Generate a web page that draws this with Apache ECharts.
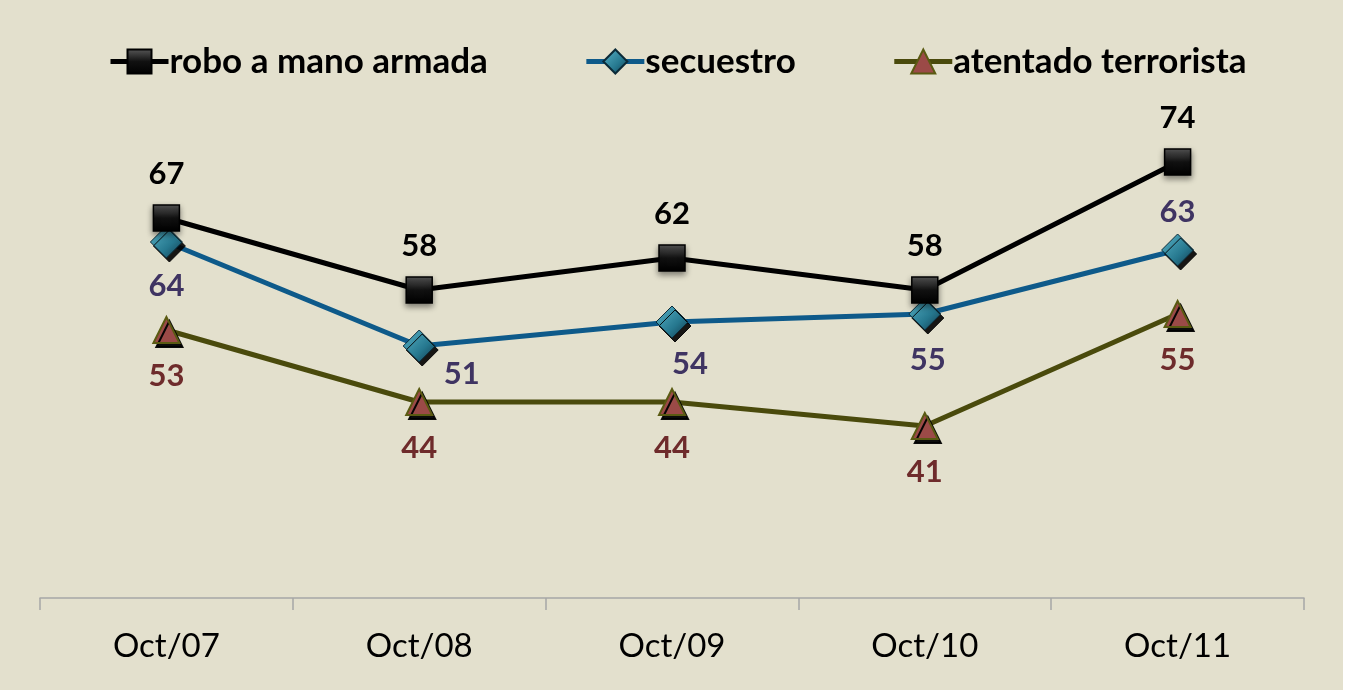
<!DOCTYPE html>
<html>
<head>
<meta charset="utf-8">
<script src="https://cdn.jsdelivr.net/npm/echarts@6/dist/echarts.min.js"></script>
<style>
	html, body { margin: 0; padding: 0; background: #ffffff; }
	#chart { width: 1343px; height: 690px; background: #E3E0CD; }
</style>
</head>
<body>
<div id="chart"></div>
<script>
	// categorías y valores
	const categories = ["Oct/07", "Oct/08", "Oct/09", "Oct/10", "Oct/11"];
	const robo = [67, 58, 62, 58, 74];
	const secuestro = [64, 51, 54, 55, 63];
	const atentado = [53, 44, 44, 41, 55];

	const fontFamily = "Lato, 'Open Sans', sans-serif";

	// posiciones de etiquetas por punto (solo diseño)
	function labels(values, opts) {
		return values.map((v, i) => ({
			value: v,
			label: opts[i]
		}));
	}

	const chart = echarts.init(document.getElementById("chart"));

	chart.setOption({
		animation: false,
		textStyle: { fontFamily: fontFamily },
		legend: {
			left: 103,
			top: 39,
			itemWidth: 58,
			itemHeight: 30,
			itemGap: 96,
			lineStyle: { width: 5 },
			textStyle: {
				fontSize: 35,
				fontWeight: "bold",
				color: "#000000",
				fontFamily: fontFamily,
				padding: [0, 0, 0, -4]
			}
		},
		grid: {
			left: 40,
			right: 39,
			top: 114,
			bottom: 92
		},
		xAxis: {
			type: "category",
			data: categories,
			boundaryGap: true,
			axisLine: { lineStyle: { color: "#A6A6A6", width: 1.5 } },
			axisTick: { show: true, length: 12, lineStyle: { color: "#A6A6A6", width: 1.5 } },
			axisLabel: { fontSize: 33, color: "#000000", margin: 32, fontFamily: fontFamily }
		},
		yAxis: {
			type: "value",
			min: 19.5,
			max: 80,
			show: false,
			splitLine: { show: false }
		},
		series: [
			{
				name: "robo a mano armada",
				type: "line",
				data: robo,
				symbol: "rect",
				symbolSize: 26,
				lineStyle: { color: "#000000", width: 5 },
				itemStyle: {
					color: new echarts.graphic.LinearGradient(0, 0, 0, 1, [
						{ offset: 0, color: "#5a5a5a" },
						{ offset: 0.5, color: "#111111" },
						{ offset: 1, color: "#000000" }
					]),
					borderColor: "#000000",
					borderWidth: 1.5,
					shadowColor: "rgba(0,0,0,0.45)",
					shadowBlur: 6,
					shadowOffsetY: 3
				},
				label: {
					show: true,
					position: "top",
					distance: 15,
					fontSize: 31,
					fontWeight: "bold",
					color: "#000000"
				},
				z: 3
			},
			{
				name: "secuestro",
				type: "line",
				data: labels(secuestro, [
					{ position: "bottom", distance: 12 },
					{ position: "right", offset: [0, 28], distance: 8 },
					{ position: "bottom", offset: [18, 0], distance: 10 },
					{ position: "bottom", offset: [3, 0], distance: 14 },
					{ position: "top", distance: 6 }
				]),
				symbol: "diamond",
				symbolSize: 32,
				lineStyle: { color: "#0E5A8A", width: 5 },
				itemStyle: {
					color: new echarts.graphic.LinearGradient(0, 0, 1, 1, [
						{ offset: 0, color: "#5AB4C8" },
						{ offset: 0.6, color: "#26788F" },
						{ offset: 1, color: "#10384A" }
					]),
					borderColor: "#0B2A38",
					borderWidth: 1,
					shadowColor: "rgba(0,0,0,0.9)",
					shadowBlur: 0,
					shadowOffsetX: 3,
					shadowOffsetY: 4
				},
				label: {
					show: true,
					fontSize: 31,
					fontWeight: "bold",
					color: "#3F3462"
				},
				z: 2
			},
			{
				name: "atentado terrorista",
				type: "line",
				data: atentado,
				symbol: "triangle",
				symbolSize: 26,
				lineStyle: { color: "#4A4A0C", width: 5 },
				itemStyle: {
					color: "#9B4A47",
					borderColor: "#5A5A12",
					borderWidth: 2,
					shadowColor: "rgba(0,0,0,0.95)",
					shadowBlur: 0,
					shadowOffsetX: 3,
					shadowOffsetY: 4
				},
				label: {
					show: true,
					position: "bottom",
					distance: 16,
					fontSize: 31,
					fontWeight: "bold",
					color: "#6E2B2B"
				},
				z: 1
			}
		]
	});
</script>
</body>
</html>
